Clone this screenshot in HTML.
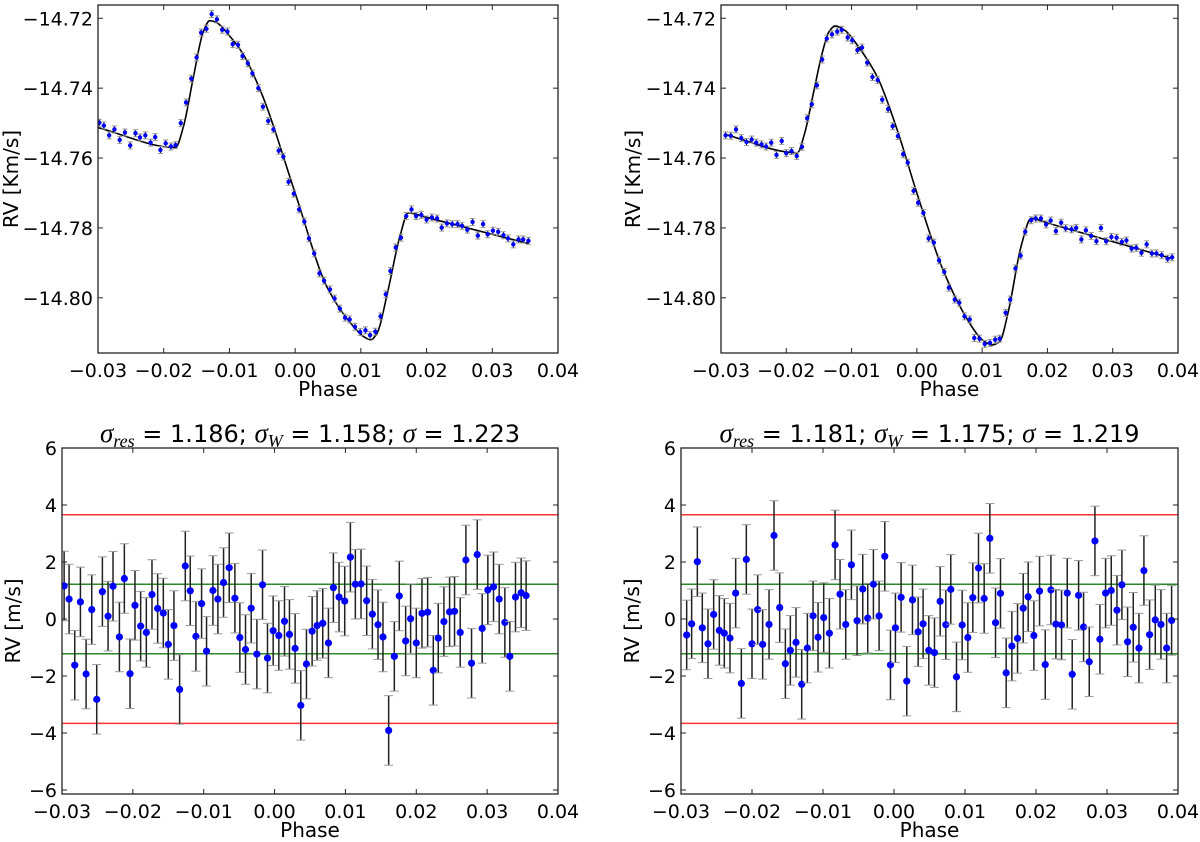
<!DOCTYPE html>
<html><head><meta charset="utf-8">
<style>
html,body{margin:0;padding:0;background:#fff;}
svg{display:block;font-family:"DejaVu Sans","Liberation Sans",sans-serif;}
</style></head>
<body>
<svg id="fig" width="1200" height="842" viewBox="0 0 1200 842" xmlns="http://www.w3.org/2000/svg"></svg>
<script>
// ---------- DATA ----------
const tlPhase=[-0.0298,-0.0291,-0.0283,-0.0275,-0.0267,-0.0259,-0.0251,-0.0243,-0.0236,-0.0228,-0.0220,-0.0213,-0.0205,-0.0197,-0.0189,-0.0182,-0.0174,-0.0166,-0.0158,-0.0150,-0.0143,-0.0135,-0.0127,-0.0119,-0.0111,-0.0103,-0.0095,-0.0087,-0.0080,-0.0072,-0.0065,-0.0056,-0.0049,-0.0041,-0.0033,-0.0025,-0.0018,-0.0010,-0.0002,0.0006,0.0014,0.0021,0.0029,0.0037,0.0044,0.0053,0.0060,0.0068,0.0076,0.0083,0.0091,0.0099,0.0107,0.0114,0.0122,0.0130,0.0138,0.0145,0.0153,0.0161,0.0169,0.0177,0.0184,0.0192,0.0200,0.0208,0.0216,0.0223,0.0231,0.0239,0.0247,0.0254,0.0262,0.0270,0.0278,0.0286,0.0293,0.0301,0.0309,0.0317,0.0324,0.0332,0.0340,0.0347,0.0355];
const tlRV=[-14.7499,-14.7507,-14.7535,-14.7518,-14.7548,-14.7527,-14.7564,-14.7529,-14.7541,-14.7535,-14.7556,-14.7540,-14.7577,-14.7558,-14.7567,-14.7563,-14.7500,-14.7441,-14.7373,-14.7312,-14.7241,-14.7230,-14.7188,-14.7203,-14.7233,-14.7238,-14.7274,-14.7276,-14.7308,-14.7329,-14.7358,-14.7400,-14.7453,-14.7494,-14.7518,-14.7579,-14.7596,-14.7668,-14.7702,-14.7747,-14.7782,-14.7830,-14.7873,-14.7930,-14.7951,-14.7976,-14.8002,-14.8031,-14.8057,-14.8062,-14.8083,-14.8098,-14.8093,-14.8107,-14.8097,-14.8053,-14.7990,-14.7923,-14.7856,-14.7828,-14.7766,-14.7747,-14.7766,-14.7763,-14.7776,-14.7770,-14.7773,-14.7799,-14.7787,-14.7789,-14.7789,-14.7794,-14.7805,-14.7783,-14.7822,-14.7789,-14.7818,-14.7808,-14.7811,-14.7821,-14.7830,-14.7847,-14.7833,-14.7833,-14.7837];
const tlModelX=[-0.0300,-0.0182,-0.0170,-0.0155,-0.0140,-0.0130,-0.0120,-0.0100,-0.0080,-0.0050,0.0000,0.0050,0.0090,0.0105,0.0115,0.0125,0.0140,0.0160,0.0172,0.0200,0.0355];
const tlModelY=[-14.7513,-14.7570,-14.7510,-14.7370,-14.7240,-14.7207,-14.7212,-14.7250,-14.7300,-14.7420,-14.7700,-14.7975,-14.8085,-14.8112,-14.8120,-14.8100,-14.7990,-14.7820,-14.7757,-14.7770,-14.7845];

const trPhase=[-0.0293,-0.0285,-0.0277,-0.0269,-0.0261,-0.0253,-0.0246,-0.0238,-0.0231,-0.0223,-0.0215,-0.0207,-0.0200,-0.0192,-0.0184,-0.0176,-0.0168,-0.0161,-0.0153,-0.0145,-0.0138,-0.0130,-0.0122,-0.0115,-0.0106,-0.0099,-0.0091,-0.0084,-0.0076,-0.0068,-0.0060,-0.0053,-0.0044,-0.0037,-0.0029,-0.0021,-0.0014,-0.0005,0.0002,0.0010,0.0018,0.0026,0.0034,0.0042,0.0049,0.0058,0.0065,0.0073,0.0081,0.0088,0.0096,0.0104,0.0112,0.0120,0.0127,0.0136,0.0143,0.0151,0.0159,0.0166,0.0175,0.0182,0.0190,0.0198,0.0205,0.0213,0.0221,0.0228,0.0237,0.0244,0.0252,0.0259,0.0267,0.0275,0.0282,0.0290,0.0298,0.0306,0.0314,0.0321,0.0329,0.0336,0.0344,0.0352,0.0360,0.0367,0.0375,0.0384,0.0391];
const trRV=[-14.7535,-14.7536,-14.7518,-14.7543,-14.7554,-14.7547,-14.7556,-14.7561,-14.7567,-14.7556,-14.7591,-14.7551,-14.7586,-14.7580,-14.7594,-14.7568,-14.7486,-14.7446,-14.7392,-14.7318,-14.7258,-14.7246,-14.7238,-14.7233,-14.7255,-14.7263,-14.7291,-14.7284,-14.7327,-14.7368,-14.7377,-14.7433,-14.7460,-14.7509,-14.7537,-14.7589,-14.7613,-14.7694,-14.7728,-14.7757,-14.7830,-14.7842,-14.7893,-14.7926,-14.7971,-14.8005,-14.8014,-14.8053,-14.8062,-14.8115,-14.8117,-14.8132,-14.8129,-14.8120,-14.8117,-14.8043,-14.8005,-14.7916,-14.7879,-14.7811,-14.7778,-14.7773,-14.7773,-14.7790,-14.7779,-14.7809,-14.7785,-14.7801,-14.7804,-14.7800,-14.7833,-14.7807,-14.7823,-14.7838,-14.7800,-14.7838,-14.7826,-14.7828,-14.7840,-14.7836,-14.7859,-14.7857,-14.7871,-14.7847,-14.7873,-14.7873,-14.7878,-14.7888,-14.7884];
const trModelX=[-0.0293,-0.0183,-0.0172,-0.0158,-0.0145,-0.0135,-0.0125,-0.0110,-0.0090,-0.0060,-0.0030,0.0000,0.0040,0.0080,0.0100,0.0115,0.0127,0.0140,0.0160,0.0175,0.0200,0.0391];
const trModelY=[-14.7533,-14.7585,-14.7530,-14.7410,-14.7300,-14.7240,-14.7222,-14.7235,-14.7280,-14.7370,-14.7520,-14.7700,-14.7920,-14.8070,-14.8120,-14.8135,-14.8125,-14.8040,-14.7850,-14.7773,-14.7786,-14.7888];
const rvErr=[0.0010];

const blPhase=[-0.0297,-0.0290,-0.0282,-0.0274,-0.0266,-0.0258,-0.0251,-0.0243,-0.0235,-0.0228,-0.0219,-0.0212,-0.0204,-0.0197,-0.0189,-0.0181,-0.0173,-0.0165,-0.0157,-0.0150,-0.0142,-0.0134,-0.0126,-0.0119,-0.0111,-0.0103,-0.0096,-0.0087,-0.0080,-0.0072,-0.0064,-0.0056,-0.0049,-0.0041,-0.0033,-0.0025,-0.0017,-0.0010,-0.0002,0.0006,0.0014,0.0021,0.0029,0.0037,0.0045,0.0053,0.0060,0.0068,0.0076,0.0083,0.0091,0.0099,0.0107,0.0114,0.0122,0.0130,0.0138,0.0146,0.0153,0.0161,0.0169,0.0176,0.0185,0.0192,0.0200,0.0208,0.0216,0.0224,0.0231,0.0239,0.0247,0.0254,0.0262,0.0270,0.0278,0.0286,0.0293,0.0301,0.0309,0.0317,0.0325,0.0332,0.0340,0.0348,0.0355];
const blRes=[1.16,0.70,-1.62,0.60,-1.93,0.33,-2.82,0.96,0.10,1.15,-0.63,1.42,-1.92,0.48,-0.25,-0.47,0.86,0.37,0.21,-0.89,-0.23,-2.47,1.86,0.99,-0.61,0.54,-1.13,1.00,0.70,1.28,1.80,0.73,-0.65,-1.07,0.38,-1.23,1.20,-1.37,-0.41,-0.58,-0.08,-0.54,-1.03,-3.03,-1.58,-0.43,-0.23,-0.15,-0.84,1.10,0.77,0.63,2.17,1.22,1.23,0.64,0.17,-0.20,-0.63,-3.91,-1.31,0.81,-0.77,0.01,-0.84,0.20,0.24,-1.80,-0.67,-0.09,0.25,0.27,-0.47,2.07,-1.55,2.26,-0.33,1.02,1.13,0.70,-0.12,-1.31,0.77,0.92,0.82];

const brPhase=[-0.0292,-0.0285,-0.0277,-0.0270,-0.0262,-0.0254,-0.0246,-0.0239,-0.0231,-0.0223,-0.0215,-0.0208,-0.0200,-0.0192,-0.0185,-0.0176,-0.0169,-0.0161,-0.0153,-0.0146,-0.0138,-0.0130,-0.0122,-0.0114,-0.0107,-0.0099,-0.0091,-0.0083,-0.0076,-0.0068,-0.0060,-0.0052,-0.0044,-0.0037,-0.0029,-0.0021,-0.0013,-0.0005,0.0002,0.0010,0.0018,0.0026,0.0034,0.0041,0.0049,0.0057,0.0065,0.0073,0.0080,0.0088,0.0096,0.0104,0.0111,0.0119,0.0127,0.0135,0.0143,0.0150,0.0158,0.0166,0.0174,0.0182,0.0189,0.0197,0.0205,0.0213,0.0221,0.0228,0.0236,0.0244,0.0251,0.0260,0.0267,0.0275,0.0283,0.0290,0.0298,0.0306,0.0314,0.0321,0.0329,0.0337,0.0345,0.0352,0.0360,0.0368,0.0376,0.0384,0.0391];
const brRes=[-0.56,-0.17,2.01,-0.31,-0.87,0.16,-0.40,-0.50,-0.67,0.91,-2.26,2.09,-0.87,0.33,-0.89,-0.19,2.93,0.40,-1.57,-1.10,-0.82,-2.29,-1.02,0.11,-0.64,0.05,-0.50,2.60,0.87,-0.19,1.90,-0.06,1.05,0.03,1.22,0.11,2.20,-1.61,-0.31,0.76,-2.18,0.67,-0.45,-0.17,-1.10,-1.18,0.62,-0.20,1.04,-2.03,-0.21,-0.65,0.75,1.79,0.72,2.83,-0.13,0.90,-1.89,-0.95,-0.68,0.38,0.78,-0.58,0.98,-1.60,1.02,-0.18,-0.21,0.91,-1.94,0.83,-0.28,-1.50,2.74,-0.71,0.91,1.00,0.31,1.20,-0.80,-0.29,-1.02,1.70,-0.55,-0.03,-0.19,-1.02,-0.05];
const resErr=[1.22];
const sigmaLines=[1.22,3.66];

const xTicks=[-0.03,-0.02,-0.01,0.00,0.01,0.02,0.03,0.04];
const xTickLabels=["\u22120.03","\u22120.02","\u22120.01","0.00","0.01","0.02","0.03","0.04"];
const topYTicks=[-14.72,-14.74,-14.76,-14.78,-14.80];
const topYTickLabels=["\u221214.72","\u221214.74","\u221214.76","\u221214.78","\u221214.80"];
const botYTicks=[6,4,2,0,-2,-4,-6];
const botYTickLabels=["6","4","2","0","\u22122","\u22124","\u22126"];
const titleLeft=["res","1.186","1.158","1.223"];
const titleRight=["res","1.181","1.175","1.219"];

// ---------- DRAW ----------
const NS="http://www.w3.org/2000/svg";
const svg=document.getElementById('fig');
function mk(tag,attrs,parent){const e=document.createElementNS(NS,tag);for(const k in attrs)e.setAttribute(k,attrs[k]);(parent||svg).appendChild(e);return e;}
function lin(d0,d1,r0,r1){return v=>r0+(v-d0)/(d1-d0)*(r1-r0);}

function monoPath(P){
  const n=P.length,dx=[],s=[],m=[];
  for(let i=0;i<n-1;i++){dx[i]=P[i+1][0]-P[i][0];s[i]=(P[i+1][1]-P[i][1])/dx[i];}
  m[0]=s[0];m[n-1]=s[n-2];
  for(let i=1;i<n-1;i++){m[i]=(s[i-1]*s[i]<=0)?0:(3*(dx[i-1]+dx[i]))/((2*dx[i]+dx[i-1])/s[i-1]+(dx[i]+2*dx[i-1])/s[i]);}
  let d='M'+P[0][0]+','+P[0][1];
  for(let i=0;i<n-1;i++){
    const h=dx[i]/3;
    d+=' C'+(P[i][0]+h)+','+(P[i][1]+m[i]*h)+' '+(P[i+1][0]-h)+','+(P[i+1][1]-m[i+1]*h)+' '+P[i+1][0]+','+P[i+1][1];
  }
  return d;
}

function panel(o){
  const g=mk('g',{});
  
  
  const sx=lin(-0.03,0.04,o.L,o.R), sy=lin(o.y0,o.y1,o.B,o.T);
  const cid='clip-'+o.name;
  const cp=mk('clipPath',{id:cid},g); mk('rect',{x:o.L,y:o.T,width:o.R-o.L,height:o.B-o.T},cp);
  const pg=mk('g',{'clip-path':'url(#'+cid+')'},g);
  
  
  if(o.lines){
    o.lines.forEach(v=>{[v,-v].forEach(val=>{
      const ln=mk('line',{x1:o.L,x2:o.R,y1:sy(val),y2:sy(val),stroke:Math.abs(v)>2?'#ff3333':'#2a8a2a','stroke-width':1.5},pg);
      
      
    });});
  }
  if(o.mx){
    const P=o.mx.map((x,i)=>[sx(x),sy(o.my[i])]);
    const m=mk('path',{d:monoPath(P),fill:'none',stroke:'#000','stroke-width':1.6},pg);
    
    
  }
  const n=Math.min(o.px.length,o.py.length);
  for(let i=0;i<n;i++){
    const x=sx(o.px[i]),y=sy(o.py[i]),yt=sy(o.py[i]+o.err),yb=sy(o.py[i]-o.err);
    const eb=mk('g',{},pg);
    
    
    mk('line',{x1:x,x2:x,y1:yt,y2:yb,stroke:'#222','stroke-width':o.big?1.5:1.1},eb);
    mk('line',{x1:x-o.cap,x2:x+o.cap,y1:yt,y2:yt,stroke:'#999','stroke-width':1},eb);
    mk('line',{x1:x-o.cap,x2:x+o.cap,y1:yb,y2:yb,stroke:'#999','stroke-width':1},eb);
    const c=mk('circle',{cx:x,cy:y,r:o.r,fill:'#0000ff'},pg);
    
    
  }
  const fr=mk('rect',{x:o.L,y:o.T,width:o.R-o.L,height:o.B-o.T,fill:'none',stroke:'#222','stroke-width':1.3},g);
  
  
  xTicks.forEach((t,i)=>{
    const x=sx(t);
    mk('line',{x1:x,x2:x,y1:o.B,y2:o.B-5,stroke:'#222'},g);
    mk('line',{x1:x,x2:x,y1:o.T,y2:o.T+5,stroke:'#222'},g);
    const tx=mk('text',{x:x,y:o.B+24,'font-size':19,'text-anchor':'middle',fill:'#000'},g);
    tx.textContent=xTickLabels[i];
    
    
  });
  o.yt.forEach((t,i)=>{
    const y=sy(t);
    mk('line',{x1:o.L,x2:o.L+5,y1:y,y2:y,stroke:'#222'},g);
    mk('line',{x1:o.R,x2:o.R-5,y1:y,y2:y,stroke:'#222'},g);
    const tx=mk('text',{x:o.L-5,y:y+7,'font-size':19,'text-anchor':'end',fill:'#000'},g);
    tx.textContent=o.ytl[i];
    
    
  });
  const xl=mk('text',{x:(o.L+o.R)/2,y:o.B+43,'font-size':20,'text-anchor':'middle'},g);
  xl.textContent='Phase';
  
  
  const yl=mk('text',{x:0,y:0,'font-size':20,'text-anchor':'middle',transform:'translate('+o.ylx+','+((o.T+o.B)/2)+') rotate(-90)'},g);
  yl.textContent=o.ylabel;
  
  
  if(o.title){
    const tt=mk('text',{x:(o.L+o.R)/2,y:o.T-6,'font-size':24,'text-anchor':'middle'},g);
    
    
    const it='font-family:"Liberation Serif",serif;font-style:italic;';
    tt.innerHTML='<tspan style=\''+it+'font-size:27px\'>σ</tspan><tspan style=\''+it+'font-size:18px\' dy="5">'+o.title[0]+'</tspan><tspan dy="-5"> = '+o.title[1]+'; </tspan><tspan style=\''+it+'font-size:27px\'>σ</tspan><tspan style=\''+it+'font-size:18px\' dy="5">W</tspan><tspan dy="-5"> = '+o.title[2]+'; </tspan><tspan style=\''+it+'font-size:27px\'>σ</tspan><tspan> = '+o.title[3]+'</tspan>';
  }
}

panel({name:'rv-panel-left',L:98,R:558,T:5,B:353,y0:-14.8158,y1:-14.7162,px:tlPhase,py:tlRV,err:rvErr[0],cap:2.5,r:2.2,mx:tlModelX,my:tlModelY,yt:topYTicks,ytl:topYTickLabels,ylabel:'RV [Km/s]',ylx:18});
panel({name:'rv-panel-right',L:721,R:1178,T:5,B:353,y0:-14.8158,y1:-14.7162,px:trPhase,py:trRV,err:rvErr[0],cap:2.5,r:2.2,mx:trModelX,my:trModelY,yt:topYTicks,ytl:topYTickLabels,ylabel:'RV [Km/s]',ylx:640});
panel({name:'residual-panel-left',L:62,R:558,T:448,B:794,y0:-6.14,y1:6,px:blPhase,py:blRes,err:resErr[0],cap:4.5,r:3.6,big:true,lines:sigmaLines,yt:botYTicks,ytl:botYTickLabels,ylabel:'RV [m/s]',ylx:20,title:titleLeft});
panel({name:'residual-panel-right',L:681,R:1178,T:448,B:794,y0:-6.14,y1:6,px:brPhase,py:brRes,err:resErr[0],cap:4.5,r:3.6,big:true,lines:sigmaLines,yt:botYTicks,ytl:botYTickLabels,ylabel:'RV [m/s]',ylx:639,title:titleRight});
</script>
</body></html>
